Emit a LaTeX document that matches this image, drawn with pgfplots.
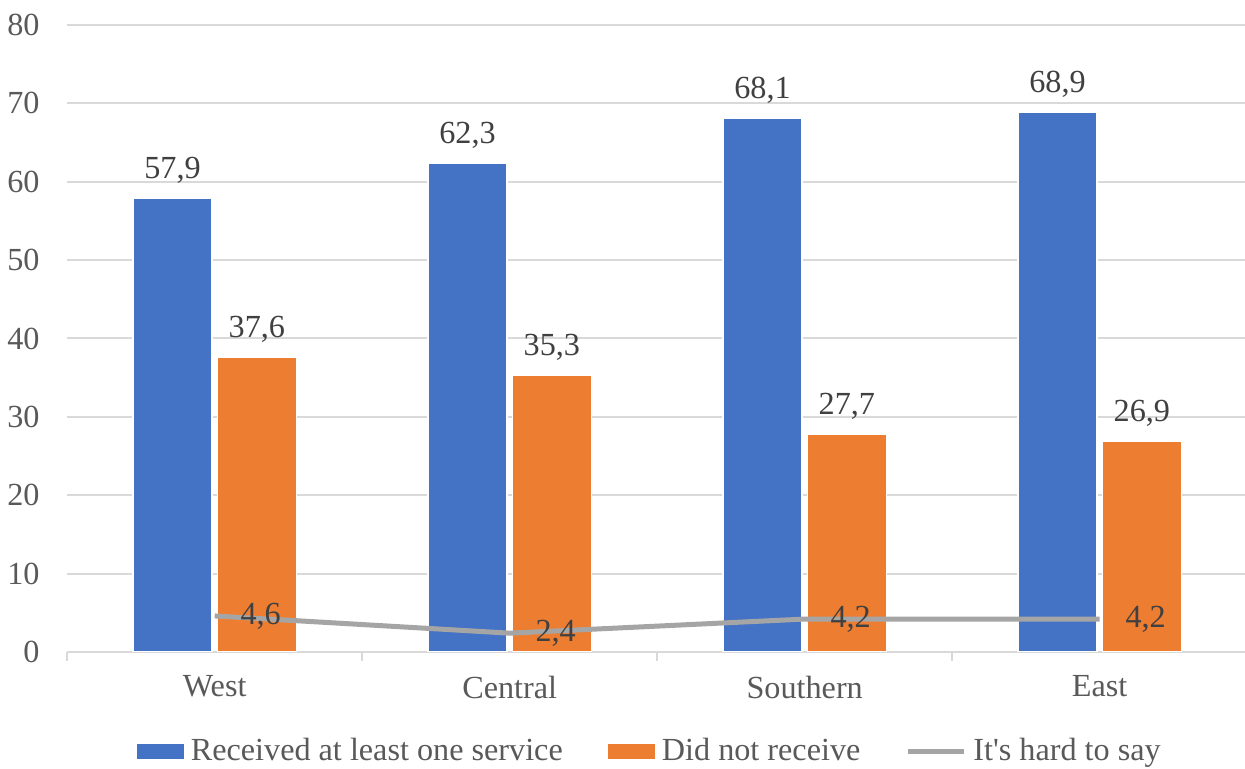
\documentclass[border=0pt]{standalone}
\usepackage{fontspec}
\setmainfont{Liberation Serif}[Ligatures=TeXOff]
\usepackage{pgfplots}
\pgfplotsset{compat=1.18}

\definecolor{cblue}{HTML}{4472C4}
\definecolor{corange}{HTML}{ED7D31}
\definecolor{cgray}{HTML}{A5A5A5}
\definecolor{cgrid}{HTML}{D9D9D9}
\definecolor{ctext}{HTML}{595959}
\definecolor{clabel}{HTML}{404040}

\newcommand{\chartfont}{\fontsize{16.1}{18}\selectfont}

\begin{document}
\chartfont
\begin{tikzpicture}
  \begin{axis}[
    name=ax,
    scale only axis,
    width=590pt, height=313.5pt,
    xmin=-0.5, xmax=3.5,
    ymin=0, ymax=80,
    ytick={0,10,...,80},
    xtick={0,1,2,3},
    xticklabels={West,Central,Southern,East},
    minor xtick={-0.5,0.5,1.5,2.5,3.5},
    xtick pos=lower,
    tick align=outside,
    major tick length=0pt,
    minor tick length=4.5pt,
    minor tick style={cgrid, line width=1pt},
    axis line style={draw=none},
    ymajorgrids=true,
    grid style={cgrid, line width=1pt},
    /pgf/number format/assume math mode=true,
    tick label style={text=ctext, font=\chartfont},
    yticklabel style={xshift=-8.3pt},
    xticklabel style={yshift=-6.3pt},
    legend columns=3,
    legend style={
      at={(0.4928,-0.159)}, anchor=center,
      draw=none, fill=none, inner sep=0pt,
      font=\chartfont,
      nodes={inner sep=0pt, text=ctext},
      /tikz/every odd column/.append style={column sep=3.5pt},
      /tikz/every even column/.append style={column sep=22.5pt},
    },
    nodes near coords={\pgfmathprintnumber[fixed,fixed zerofill,precision=1,use comma,assume math mode=true]{\pgfplotspointmeta}},
    every node near coord/.append style={text=clabel, font=\chartfont},
  ]
    \addplot[ybar, bar width=39.5pt, bar shift=-21.1pt, fill=cblue, draw=white, line width=0.6pt,
      every node near coord/.append style={anchor=south, xshift=-21.1pt, yshift=1.8pt},
      legend image code/.code={\fill[cblue] (0pt,-3.5pt) rectangle (23pt,3.5pt);}]
      coordinates {(0,57.9) (1,62.3) (2,68.1) (3,68.9)};
    \addlegendentry{Received at least one service}
    \addplot[ybar, bar width=39.5pt, bar shift=21.1pt, fill=corange, draw=white, line width=0.6pt,
      every node near coord/.append style={anchor=south, xshift=21.1pt, yshift=1.8pt},
      legend image code/.code={\fill[corange] (0pt,-3.5pt) rectangle (23pt,3.5pt);}]
      coordinates {(0,37.6) (1,35.3) (2,27.7) (3,26.9)};
    \addlegendentry{Did not receive}
    \addplot[sharp plot, cgray, line width=2.5pt, mark=none,
      every node near coord/.append style={anchor=west, xshift=6.3pt},
      legend image code/.code={\draw[cgray, line width=2.5pt] (0pt,0pt) -- (28pt,0pt);}]
      coordinates {(0,4.6) (1,2.4) (2,4.2) (3,4.2)};
    \addlegendentry{It's hard to say}
  \end{axis}
  \pgfresetboundingbox
  \useasboundingbox ([shift={(-33.6pt,-58.5pt)}]ax.south west) rectangle ([shift={(-1.1pt,12.5pt)}]ax.north east);
\end{tikzpicture}
\end{document}
